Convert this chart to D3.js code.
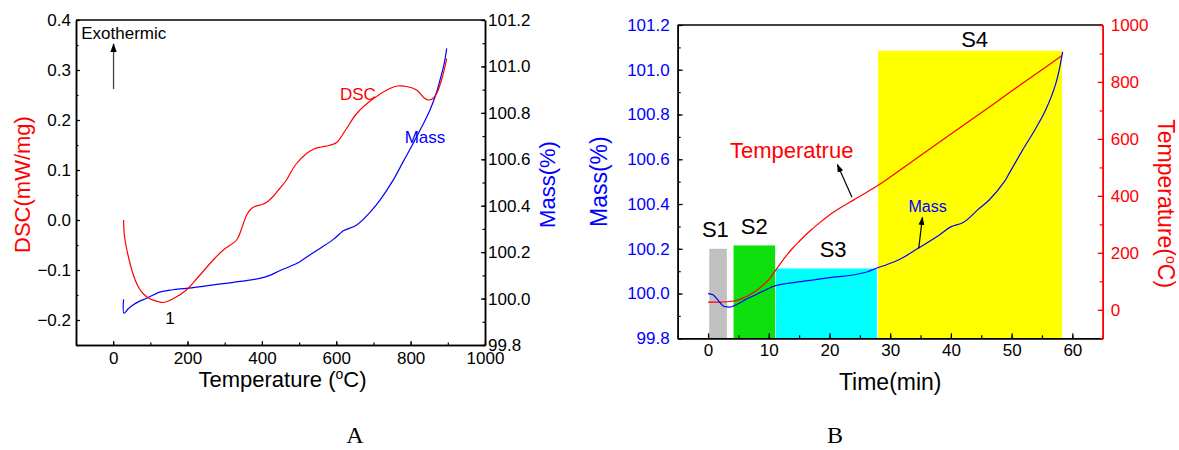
<!DOCTYPE html>
<html>
<head>
<meta charset="utf-8">
<script src="https://cdn.jsdelivr.net/npm/d3@7"></script>
<style>
  body { margin: 0; background: #fff; }
  svg text { font-family: "Liberation Sans", Arial, sans-serif; }
  svg text.serif { font-family: "Liberation Serif", "Times New Roman", serif; }
</style>
</head>
<body>
<div id="chart"></div>
<script>
// ---- panel A: DSC / mass vs temperature ----
const dscTemp = [28, 30, 35, 43, 53, 65, 80, 100, 120, 134, 160, 197, 230, 269, 296, 332, 345, 359, 372, 381, 400, 412, 430, 448, 466, 490, 520, 540, 560, 580, 601, 625, 655, 700, 744, 765, 789, 816, 835, 848, 860, 870, 885, 897];
const dscVal  = [0.0, -0.03, -0.053, -0.08, -0.107, -0.13, -0.147, -0.158, -0.163, -0.165, -0.158, -0.14, -0.113, -0.08, -0.06, -0.04, -0.018, 0.01, 0.023, 0.027, 0.031, 0.035, 0.047, 0.063, 0.08, 0.11, 0.133, 0.142, 0.146, 0.149, 0.155, 0.18, 0.213, 0.243, 0.263, 0.268, 0.267, 0.26, 0.245, 0.24, 0.243, 0.253, 0.285, 0.323];
const massTemp = [28, 29, 40, 53, 70, 89, 125, 160, 197, 250, 323, 394, 421, 448, 475, 502, 529, 560, 592, 610, 619, 655, 690, 718, 753, 780, 807, 830, 852, 870, 879, 890, 897];
const massValA = [99.997, 99.937, 99.955, 99.972, 99.988, 100.0, 100.028, 100.038, 100.044, 100.055, 100.07, 100.087, 100.10, 100.12, 100.138, 100.159, 100.188, 100.22, 100.255, 100.28, 100.292, 100.317, 100.37, 100.425, 100.51, 100.59, 100.669, 100.74, 100.812, 100.89, 100.942, 101.01, 101.078];
const tempTicks = [0, 200, 400, 600, 800, 1000];
const dscTicks = [-0.2, -0.1, 0.0, 0.1, 0.2, 0.3, 0.4];
const massTicks = [99.8, 100.0, 100.2, 100.4, 100.6, 100.8, 101.0, 101.2];

// ---- panel B: mass / temperature vs time ----
const timeMass = [0, 0.8, 1.5, 2.5, 3.2, 3.9, 5.3, 6.5, 7.5, 9, 11, 13, 15, 18, 20.6, 23.9, 26, 27.7, 29.5, 31.6, 34.6, 38.1, 40.05, 42, 44.7, 46.3, 48.8, 49.6, 51.8, 53.8, 55.6, 57.3, 58.4];
const massValB = [100.0, 99.995, 99.975, 99.944, 99.94, 99.941, 99.959, 99.978, 99.99, 100.01, 100.034, 100.045, 100.053, 100.063, 100.073, 100.083, 100.095, 100.113, 100.13, 100.153, 100.202, 100.262, 100.299, 100.317, 100.381, 100.418, 100.5, 100.537, 100.641, 100.73, 100.82, 100.94, 101.08];
const timeTemp = [0, 2, 4, 5, 6, 7, 8, 9, 10, 11, 12, 13, 14, 15, 16, 17, 18, 20, 22, 24, 26, 28, 30, 35, 40, 45, 50, 55, 58.3];
const tempVal  = [27, 27, 30, 35, 44, 55, 68, 86, 106, 135, 165, 193, 218, 240, 261, 281, 299, 333, 361, 386, 411, 437, 466, 542, 617, 692, 768, 843, 893];
const timeTicks = [0, 10, 20, 30, 40, 50, 60];
const tempTicksB = [0, 200, 400, 600, 800, 1000];

const stageNames  = ["S1", "S2", "S3", "S4"];
const stageStart  = [0.2, 4.2, 11.15, 28.0];
const stageEnd    = [3.1, 11.05, 27.8, 58.3];
const stageTop    = [100.2, 100.215, 100.112, 101.085];
const stageColors = ["#c0c0c0", "#0ee00e", "#00ffff", "#ffff00"];

const RED = "#ff0000", BLUE = "#0000ff";

const svg = d3.select("#chart").append("svg")
  .attr("width", 1179).attr("height", 450);

const defs = svg.append("defs");
defs.append("marker")
  .attr("id", "arrow")
  .attr("viewBox", "0 0 10 10")
  .attr("refX", 9).attr("refY", 5)
  .attr("markerWidth", 7).attr("markerHeight", 7)
  .attr("orient", "auto-start-reverse")
  .append("path").attr("d", "M0,1.5 L10,5 L0,8.5 z").attr("fill", "#000");

function styleAxis(g, color, fontSize) {
  g.select(".domain").attr("stroke", color).attr("stroke-width", 1.5);
  g.selectAll(".tick line").attr("stroke", color).attr("stroke-width", 1.2);
  g.selectAll(".tick text").attr("font-size", fontSize);
}

function addAxis(g, axisFn, scale, ticks, minors, fmt, color, textColor, pad, major, minor) {
  const a = g.append("g");
  a.call(axisFn(scale).tickValues(ticks).tickFormat(fmt).tickSize(-major).tickSizeOuter(0).tickPadding(pad));
  styleAxis(a, color, 17);
  a.selectAll(".tick text").attr("fill", textColor);
  const m = g.append("g");
  m.call(axisFn(scale).tickValues(minors).tickFormat("").tickSize(-minor).tickSizeOuter(0));
  styleAxis(m, color, 17);
  return a;
}

// =============== Panel A =================
(function () {
  const L = 76, R = 485, T = 20, B = 345;
  const x = d3.scaleLinear().domain([-100, 1000]).range([L, R]);
  const yD = d3.scaleLinear().domain([-0.25, 0.4]).range([B, T]);
  const yM = d3.scaleLinear().domain([99.8, 101.2]).range([B, T]);

  const g = svg.append("g");

  // frame top
  g.append("line").attr("x1", L).attr("x2", R).attr("y1", T).attr("y2", T)
    .attr("stroke", "#000").attr("stroke-width", 1.5);

  const xb = g.append("g").attr("transform", `translate(0,${B})`);
  addAxis(xb, d3.axisBottom, x, tempTicks, d3.range(-100, 1001, 100), d3.format("d"), "#000", "#000", 7, 4, 2.5);

  const yl = g.append("g").attr("transform", `translate(${L},0)`);
  addAxis(yl, d3.axisLeft, yD, dscTicks, d3.range(-0.25, 0.401, 0.05), d3.format(".1f"), "#000", "#000", 5, 4, 2.5);

  const yr = g.append("g").attr("transform", `translate(${R},0)`);
  addAxis(yr, d3.axisRight, yM, massTicks, d3.range(99.8, 101.21, 0.1), d3.format(".1f"), "#000", "#000", 3, 4, 2.5);

  const lineD = d3.line().x((d, i) => x(dscTemp[i])).y(d => yD(d)).curve(d3.curveCatmullRom);
  const lineM = d3.line().x((d, i) => x(massTemp[i])).y(d => yM(d)).curve(d3.curveCatmullRom);

  g.append("path").datum(massValA).attr("d", lineM)
    .attr("fill", "none").attr("stroke", BLUE).attr("stroke-width", 1.2);
  g.append("path").datum(dscVal).attr("d", lineD)
    .attr("fill", "none").attr("stroke", RED).attr("stroke-width", 1.2);

  // annotations
  g.append("text").attr("x", x(-86)).attr("y", yD(0.362)).attr("font-size", 17).text("Exothermic");
  g.append("line").attr("x1", x(1)).attr("x2", x(1)).attr("y1", yD(0.262)).attr("y2", yD(0.352))
    .attr("stroke", "#444").attr("stroke-width", 1.3).attr("marker-end", "url(#arrow)");
  g.append("text").attr("x", x(610)).attr("y", yD(0.24)).attr("font-size", 17).attr("fill", RED).text("DSC");
  g.append("text").attr("x", x(784)).attr("y", yM(100.67)).attr("font-size", 17).attr("fill", BLUE).text("Mass");
  g.append("text").attr("x", x(140)).attr("y", yD(-0.207)).attr("font-size", 17).text("1");

  // axis titles
  const xt = g.append("text").attr("x", (L + R) / 2 + 2).attr("y", 387)
    .attr("text-anchor", "middle").attr("font-size", 22);
  xt.append("tspan").text("Temperature (");
  xt.append("tspan").attr("baseline-shift", "super").attr("font-size", 14).text("o");
  xt.append("tspan").text("C)");

  g.append("text").attr("transform", `translate(30,${(T + B) / 2 + 2}) rotate(-90)`)
    .attr("text-anchor", "middle").attr("font-size", 22).attr("fill", RED).text("DSC(mW/mg)");
  g.append("text").attr("transform", `translate(555,${(T + B) / 2 + 2}) rotate(-90)`)
    .attr("text-anchor", "middle").attr("font-size", 22).attr("fill", BLUE).text("Mass(%)");

  g.append("text").attr("class", "serif").attr("x", 355).attr("y", 443).attr("text-anchor", "middle")
    .attr("font-size", 24).text("A");
})();

// =============== Panel B =================
(function () {
  const L = 677.7, R = 1102.7, T = 25, B = 338.3;
  const x = d3.scaleLinear().domain([-5, 65]).range([L, R]);
  const yM = d3.scaleLinear().domain([99.8, 101.2]).range([B, T]);
  const yT = d3.scaleLinear().domain([-100, 1000]).range([B, T]);

  const g = svg.append("g");

  // stage blocks
  g.selectAll("rect.stage").data(stageNames).join("rect")
    .attr("class", "stage")
    .attr("x", (d, i) => x(stageStart[i]))
    .attr("width", (d, i) => x(stageEnd[i]) - x(stageStart[i]))
    .attr("y", (d, i) => yM(stageTop[i]))
    .attr("height", (d, i) => B - yM(stageTop[i]))
    .attr("fill", (d, i) => stageColors[i]);

  const labelX = [1.2, 7.6, 20.6, 43.9];
  const labelY = [100.253, 100.266, 100.165, 101.103];
  g.selectAll("text.stage").data(stageNames).join("text")
    .attr("class", "stage")
    .attr("x", (d, i) => x(labelX[i]))
    .attr("y", (d, i) => yM(labelY[i]))
    .attr("text-anchor", "middle").attr("font-size", 22)
    .text(d => d);

  // frame top
  g.append("line").attr("x1", L).attr("x2", R).attr("y1", T).attr("y2", T)
    .attr("stroke", "#000").attr("stroke-width", 1.5);

  const xb = g.append("g").attr("transform", `translate(0,${B})`);
  addAxis(xb, d3.axisBottom, x, timeTicks, d3.range(-5, 65.1, 5), d3.format("d"), "#000", "#000", 6, 5, 3);

  const yl = g.append("g").attr("transform", `translate(${L},0)`);
  addAxis(yl, d3.axisLeft, yM, massTicks, d3.range(99.8, 101.21, 0.1), d3.format(".1f"), "#000", BLUE, 8, 5, 3);

  const yr = g.append("g").attr("transform", `translate(${R},0)`);
  addAxis(yr, d3.axisRight, yT, tempTicksB, d3.range(-100, 1001, 100), d3.format("d"), RED, RED, 8, 5, 3);

  const lineM = d3.line().x((d, i) => x(timeMass[i])).y(d => yM(d)).curve(d3.curveCatmullRom);
  const lineT = d3.line().x((d, i) => x(timeTemp[i])).y(d => yT(d)).curve(d3.curveCatmullRom);

  g.append("path").datum(tempVal).attr("d", lineT)
    .attr("fill", "none").attr("stroke", RED).attr("stroke-width", 1.2);
  g.append("path").datum(massValB).attr("d", lineM)
    .attr("fill", "none").attr("stroke", BLUE).attr("stroke-width", 1.2);

  // annotations
  g.append("text").attr("x", x(3.6)).attr("y", yT(533)).attr("font-size", 22).attr("fill", RED).text("Temperatrue");
  g.append("line").attr("x1", x(23.7)).attr("y1", yT(395)).attr("x2", x(21.3)).attr("y2", yT(510))
    .attr("stroke", "#000").attr("stroke-width", 1.2).attr("marker-end", "url(#arrow)");
  g.append("text").attr("x", x(33)).attr("y", yM(100.363)).attr("font-size", 16).attr("fill", BLUE).text("Mass");
  g.append("line").attr("x1", x(34.7)).attr("y1", yM(100.202)).attr("x2", x(35.3)).attr("y2", yM(100.34))
    .attr("stroke", "#000").attr("stroke-width", 1.2).attr("marker-end", "url(#arrow)");

  // axis titles
  g.append("text").attr("x", (L + R) / 2).attr("y", 390)
    .attr("text-anchor", "middle").attr("font-size", 23).text("Time(min)");
  g.append("text").attr("transform", `translate(607,${(T + B) / 2}) rotate(-90)`)
    .attr("text-anchor", "middle").attr("font-size", 23).attr("fill", BLUE).text("Mass(%)");
  const tt = g.append("text").attr("transform", `translate(1158,${(T + B) / 2 + 22}) rotate(90)`)
    .attr("text-anchor", "middle").attr("font-size", 23).attr("fill", RED);
  tt.append("tspan").text("Temperature(");
  tt.append("tspan").attr("baseline-shift", "super").attr("font-size", 14).text("o");
  tt.append("tspan").text("C)");

  g.append("text").attr("class", "serif").attr("x", 835).attr("y", 443).attr("text-anchor", "middle")
    .attr("font-size", 24).text("B");
})();
</script>
</body>
</html>
